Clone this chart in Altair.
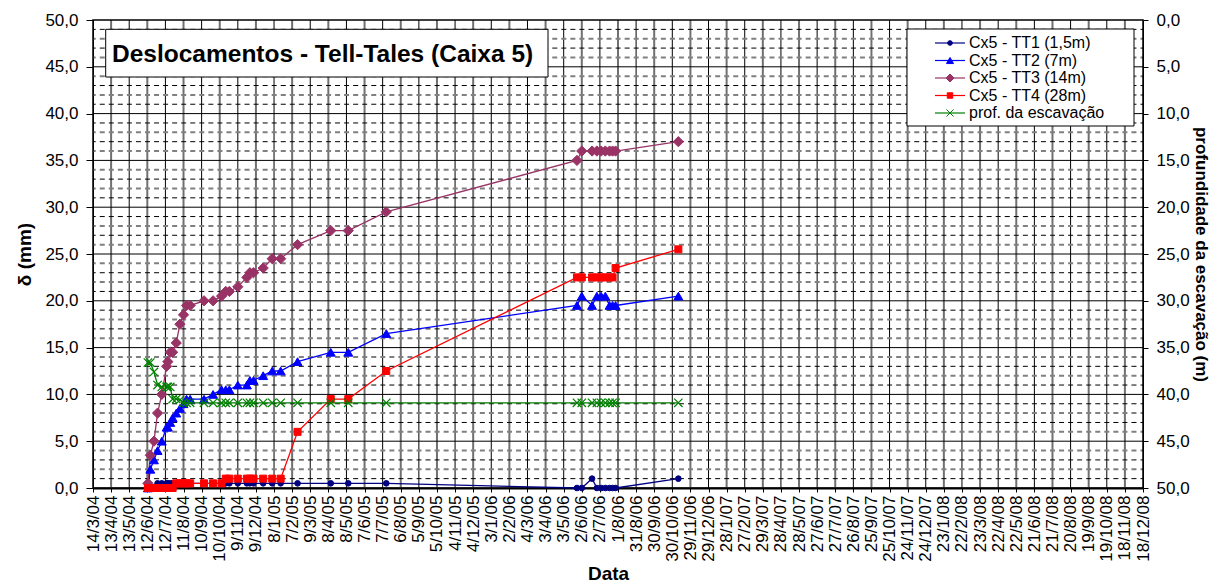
import altair as alt
import pandas as pd

FONT = "Liberation Sans"
TITLE = "Deslocamentos - Tell-Tales (Caixa 5)"

# reading dates (d/m/Y)
dates = [
    "13/06/2004", "17/06/2004", "23/06/2004", "29/06/2004", "06/07/2004",
    "14/07/2004", "16/07/2004", "20/07/2004", "24/07/2004", "30/07/2004",
    "05/08/2004", "11/08/2004", "16/08/2004", "22/08/2004", "14/09/2004",
    "29/09/2004", "13/10/2004", "20/10/2004", "26/10/2004", "09/11/2004",
    "24/11/2004", "29/11/2004", "05/12/2004", "21/12/2004", "05/01/2005",
    "19/01/2005", "16/02/2005", "12/04/2005", "11/05/2005", "13/07/2005",
    "25/05/2006", "02/06/2006", "19/06/2006", "27/06/2006", "04/07/2006",
    "11/07/2006", "18/07/2006", "23/07/2006", "28/07/2006", "09/11/2006",
]

# displacements (mm)
tt1 = [0.0, 0.0, 0.0, 0.5, 0.5, 0.5, 0.5, 0.5, 0.5, 0.5,
       0.5, 0.5, 0.5, 0.5, 0.5, 0.5, 0.5, 0.5, 0.5, 0.5,
       0.5, 0.5, 0.5, 0.5, 0.5, 0.5, 0.5, 0.5, 0.5, 0.5,
       0.0, 0.0, 1.0, 0.0, 0.0, 0.0, 0.0, 0.0, 0.0, 1.0]
tt2 = [0.0, 2.0, 3.0, 4.0, 5.0, 6.5, 6.5, 7.0, 7.5, 8.0,
       8.5, 9.0, 9.5, 9.5, 9.5, 10.0, 10.5, 10.5, 10.5, 11.0,
       11.0, 11.5, 11.5, 12.0, 12.5, 12.5, 13.5, 14.5, 14.5, 16.5,
       19.5, 20.5, 19.5, 20.5, 20.5, 20.5, 19.5, 19.5, 19.5, 20.5]
tt3 = [0.5, 3.5, 5.0, 8.0, 10.0, 13.0, 13.5, 14.5, 14.5, 15.5,
       17.5, 18.5, 19.5, 19.5, 20.0, 20.0, 20.5, 21.0, 21.0, 21.5,
       22.5, 23.0, 23.0, 23.5, 24.5, 24.5, 26.0, 27.5, 27.5, 29.5,
       35.0, 36.0, 36.0, 36.0, 36.0, 36.0, 36.0, 36.0, 36.0, 37.0]
tt4 = [0.0, 0.0, 0.0, 0.0, 0.0, 0.0, 0.0, 0.0, 0.0, 0.5,
       0.5, 0.5, 0.5, 0.5, 0.5, 0.5, 0.5, 1.0, 1.0, 1.0,
       1.0, 1.0, 1.0, 1.0, 1.0, 1.0, 6.0, 9.5, 9.5, 12.5,
       22.5, 22.5, 22.5, 22.5, 22.5, 22.5, 22.5, 22.5, 23.5, 25.5]
# excavation depth (m), secondary axis
depth = [36.6, 36.6, 37.6, 39.0, 39.2, 39.2, 39.2, 39.2, 40.5, 40.5,
         40.6, 40.9, 40.9, 40.9, 40.9, 40.9, 40.9, 40.9, 40.9, 40.9,
         40.9, 40.9, 40.9, 40.9, 40.9, 40.9, 40.9, 40.9, 40.9, 40.9,
         40.9, 40.9, 40.9, 40.9, 40.9, 40.9, 40.9, 40.9, 40.9, 40.9]

names = ["Cx5 - TT1 (1,5m)", "Cx5 - TT2 (7m)", "Cx5 - TT3 (14m)",
         "Cx5 - TT4 (28m)", "prof. da escavação"]
colors = ["#000080", "#0000FF", "#993366", "#FF0000", "#008000"]
shapes = ["circle", "triangle-up", "diamond", "square", "M-1,-1L1,1M-1,1L1,-1"]
sizes = [32, 80, 105, 49, 70]
leg_sizes = [22, 50, 64, 30, 50]

START = pd.Timestamp(2004, 3, 14)
SPAN = 1740          # days shown on the time axis
STEP = 30            # days between date ticks
W, H = 1050, 468

day = (pd.to_datetime(dates, format="%d/%m/%Y") - START).days

series = pd.concat(
    [pd.DataFrame({"day": day, "value": v, "serie": n})
     for n, v in zip(names[:4], [tt1, tt2, tt3, tt4])],
    ignore_index=True,
)
exc = pd.DataFrame({"day": day, "depth": depth, "serie": names[4]})

tick_days = list(range(0, SPAN + 1, STEP))
vgrid = pd.DataFrame({"day": tick_days[1:-1]})
vgrid["odd"] = (vgrid["day"] // STEP) % 2
hminor = pd.DataFrame({"value": [v for v in range(1, 50) if v % 5]})
hminor["odd"] = hminor["value"] % 2
hmajor = pd.DataFrame({"value": list(range(5, 50, 5))})

label_num = "replace(format(datum.value, '.1f'), '.', ',')"

X = alt.X(
    "day:Q",
    scale=alt.Scale(domain=[0, SPAN], nice=False, zero=False),
    axis=alt.Axis(
        values=tick_days,
        labelExpr="timeFormat(datetime(2004, 2, 14 + datum.value), '%-d/%-m/%y')",
        labelAngle=270, labelFont=FONT, labelFontSize=17, labelColor="black",
        labelOverlap=False, labelPadding=3, tickSize=4, tickColor="black",
        domainColor="black", domainWidth=2, grid=False,
        title="Data", titleFont=FONT, titleFontSize=19, titleFontWeight="bold",
        titleColor="black", titleX=515, titleY=91, titleBaseline="alphabetic",
    ),
)

Y = alt.Y(
    "value:Q",
    scale=alt.Scale(domain=[0, 50], nice=False),
    axis=alt.Axis(
        values=list(range(0, 51, 5)), labelExpr=label_num,
        labelFont=FONT, labelFontSize=17, labelColor="black", labelPadding=8,
        tickSize=7, tickColor="black", domainColor="black", grid=False,
        title="δ (mm)", titleFont=FONT, titleFontSize=19, titleFontWeight="bold",
        titleColor="black", titlePadding=10,
    ),
)

Y2 = alt.Y(
    "depth:Q",
    scale=alt.Scale(domain=[0, 50], nice=False, reverse=True),
    axis=alt.Axis(
        orient="right", values=list(range(0, 51, 5)), labelExpr=label_num,
        labelFont=FONT, labelFontSize=17, labelColor="black", labelPadding=8,
        tickSize=5, tickColor="black", domainColor="black", grid=False,
        title="profundidade da escavação (m)", titleFont=FONT, titleFontSize=17,
        titleFontWeight="bold", titleColor="black", titlePadding=2,
    ),
)

color_sc = alt.Scale(domain=names, range=colors)
shape_sc = alt.Scale(domain=names, range=shapes)
size_sc = alt.Scale(type="ordinal", domain=names, range=sizes)
leg_size_sc = alt.Scale(type="ordinal", domain=names, range=leg_sizes)

# grid
v_gray = alt.Chart(vgrid).transform_filter("datum.odd == 1").mark_rule(
    color="#707070", strokeWidth=2).encode(x=X)
v_black = alt.Chart(vgrid).transform_filter("datum.odd == 0").mark_rule(
    color="black", strokeWidth=1).encode(x=X)
h_gray = alt.Chart(hminor).transform_filter("datum.odd == 0").mark_rule(
    color="#808080", strokeWidth=2, strokeDash=[5, 4.05], strokeDashOffset=2.5
).encode(y=Y)
h_black = alt.Chart(hminor).transform_filter("datum.odd == 1").mark_rule(
    color="black", strokeWidth=1, strokeDash=[5, 4.05], strokeDashOffset=2.5
).encode(y=Y)
h_major = alt.Chart(hmajor).mark_rule(color="black", strokeWidth=1).encode(y=Y)

one = pd.DataFrame({"t": [TITLE]})
frame = alt.Chart(one).mark_rect(fillOpacity=0, stroke="black", strokeWidth=1.5).encode(
    x=alt.value(0), x2=alt.value(W), y=alt.value(0), y2=alt.value(H))
title_box = alt.Chart(one).mark_rect(fill="white", stroke="black", strokeWidth=1).encode(
    x=alt.value(12.7), x2=alt.value(455), y=alt.value(9.3), y2=alt.value(57))
title_txt = alt.Chart(one).mark_text(
    font=FONT, fontSize=24.5, fontWeight="bold", color="black",
    align="left", baseline="alphabetic").encode(
    x=alt.value(19), y=alt.value(41.7), text="t:N")

lines = alt.Chart(series).mark_line(strokeWidth=1.3).encode(
    x=X, y=Y, detail="serie:N",
    color=alt.Color("serie:N", scale=color_sc, legend=None),
    order="day:Q",
)
points = alt.Chart(series).mark_point(filled=True, opacity=1, strokeWidth=1).encode(
    x=X, y=Y,
    shape=alt.Shape("serie:N", scale=shape_sc, legend=None),
    fill=alt.Fill("serie:N", scale=color_sc, legend=None),
    stroke=alt.Stroke("serie:N", scale=color_sc, legend=None),
    size=alt.Size("serie:N", scale=size_sc, legend=None),
)

left = alt.layer(v_gray, v_black, h_gray, h_black, h_major, frame,
                 title_box, title_txt, lines, points)

exc_line = alt.Chart(exc).mark_line(strokeWidth=1.3, color="#008000").encode(
    x=X, y=Y2, order="day:Q")
exc_pts = alt.Chart(exc).mark_point(
    shape=shapes[4], size=sizes[4], color="#008000", strokeWidth=1.2, opacity=1
).encode(x=X, y=Y2)
right = alt.layer(exc_line, exc_pts)

# legend box
leg = pd.DataFrame({"row": list(range(len(names))), "serie": names})
LY = alt.Y("row:Q", scale=alt.Scale(domain=[0, 4], range=[23, 93]), axis=None)
leg_box = alt.Chart(one).mark_rect(fill="white", stroke="black", strokeWidth=1).encode(
    x=alt.value(814), x2=alt.value(1041), y=alt.value(9), y2=alt.value(106))
leg_line = alt.Chart(leg).mark_rule(strokeWidth=1.2).encode(
    x=alt.value(842), x2=alt.value(872), y=LY,
    color=alt.Color("serie:N", scale=color_sc, legend=None))
leg_pt = alt.Chart(leg).mark_point(filled=True, opacity=1, strokeWidth=1).encode(
    x=alt.value(857), y=LY,
    shape=alt.Shape("serie:N", scale=shape_sc, legend=None),
    fill=alt.Fill("serie:N", scale=color_sc, legend=None),
    stroke=alt.Stroke("serie:N", scale=color_sc, legend=None),
    size=alt.Size("serie:N", scale=leg_size_sc, legend=None),
)
leg_txt = alt.Chart(leg).mark_text(
    font=FONT, fontSize=16, color="black", align="left", baseline="middle").encode(
    x=alt.value(876), y=LY, text="serie:N")
legend = alt.layer(leg_box, leg_line, leg_pt, leg_txt).resolve_scale(size="independent")

chart = alt.layer(left, right, legend).resolve_scale(
    y="independent", size="independent").properties(
    width=W, height=H,
    autosize=alt.AutoSizeParams(type="none"),
    padding={"left": 93, "top": 20, "right": 69, "bottom": 95},
    background="white",
).configure_view(stroke=None)

chart.save("out.html", embed_options={"renderer": "svg", "actions": False})
